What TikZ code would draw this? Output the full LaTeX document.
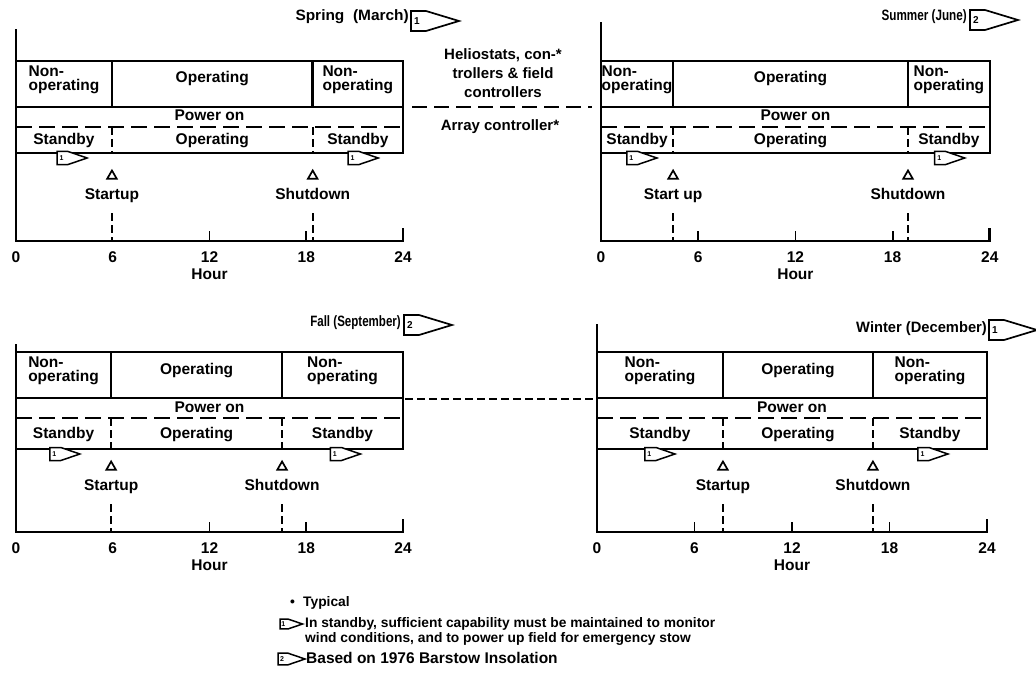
\documentclass[tikz,border=0pt]{standalone}
\usepackage{fontspec}
\usepackage{graphicx}
\setmainfont{Liberation Sans}
\usetikzlibrary{shapes.geometric}
\tikzset{
  ptxt/.style={font=\fontsize{15.5}{14.5}\selectfont\bfseries, inner sep=0pt, align=center},
  pone/.style={ptxt, text height=11pt, text depth=3pt},
  ttxt/.style={font=\fontsize{15}{15}\selectfont\bfseries, inner sep=0pt, anchor=east, text height=11pt, text depth=3pt},
  ltxt/.style={font=\fontsize{13.8}{14}\selectfont\bfseries, inner sep=0pt, anchor=west, text height=10pt, text depth=3pt},
  boxln/.style={line width=2.6pt, line cap=rect},
  axln/.style={line width=2.7pt, line cap=rect},
  tickln/.style={line width=1.8pt},
  pdash/.style={line width=2.6pt, dash pattern=on 16pt off 7pt},
  vdash/.style={line width=1.9pt, dash pattern=on 8pt off 4pt},
  mdash/.style={line width=2.3pt, dash pattern=on 15pt off 7pt},
  ldash/.style={line width=1.5pt, dash pattern=on 8pt off 4pt},
  tri/.style={draw, regular polygon, regular polygon sides=3, line width=1.7pt, minimum size=11pt, inner sep=0pt},
  smallflag/.pic={
    \draw[line width=1.5pt, fill=white, line join=miter] (0pt,6.5pt) -- (11pt,6.5pt) -- (30pt,0pt) -- (11pt,-6.5pt) -- (0pt,-6.5pt) -- cycle;
    \node[font=\fontsize{7}{7}\selectfont\bfseries, inner sep=0pt] (n) at (4.5pt,0pt) {#1};
  },
  bigflag/.pic={
    \draw[line width=1.7pt, fill=white, line join=miter] (0pt,10pt) -- (15pt,10pt) -- (48pt,0pt) -- (15pt,-10pt) -- (0pt,-10pt) -- cycle;
    \node[font=\fontsize{10}{10}\selectfont\bfseries, inner sep=0pt] (n) at (6pt,0pt) {#1};
  },
}
\newcommand\seasonpanel{%
\begin{scope}[xshift=\Px pt, yshift=-\Py pt, x=\Pk pt]
  \draw[boxln] (0,61) -- (24,61) -- (24,\Pbot) -- (0,\Pbot);
  \draw[boxln] (0,107) -- (24,107);
  \draw[boxln] (\Psu,61) -- (\Psu,107) (\Psd,61) -- (\Psd,107);
  \draw[pdash] (0,127) -- (24,127);
  \draw[vdash] (\Psu,127) -- (\Psu,\Pbot) (\Psd,127) -- (\Psd,\Pbot);
  \draw[axln] (0,\Pax) -- (0,241) -- (24,241) -- (24,229);
  \foreach \h in \Pticks \draw[tickln] (\h,241) -- (\h,231);
  \draw[vdash] (\Psu,213) -- (\Psu,241) (\Psd,213) -- (\Psd,241);
  \node[ptxt, align=left] (\Pn-nl) at ({\Psu/2},80) {Non-\\operating};
  \node[pone] (\Pn-op) at ({(\Psu+\Psd)/2},79) {Operating};
  \node[ptxt, align=left] (\Pn-nr) at ({(\Psd+24)/2},80) {Non-\\operating};
  \node[pone] (\Pn-pw) at (12,117) {Power on};
  \node[pone] (\Pn-sl) at ({\Psu/2},{(127+\Pbot)/2+1}) {Standby};
  \node[pone] (\Pn-so) at ({(\Psu+\Psd)/2},{(127+\Pbot)/2+1}) {Operating};
  \node[pone] (\Pn-sr) at ({(\Psd+24)/2},{(127+\Pbot)/2+1}) {Standby};
  \pic (\Pn-fl) at (\Pfl,\Pbot+5) {smallflag=1};
  \pic (\Pn-fr) at (\Pfr,\Pbot+5) {smallflag=1};
  \node[tri] (\Pn-ta) at (\Psu,176) {};
  \node[tri] (\Pn-tb) at (\Psd,176) {};
  \node[pone] (\Pn-su) at (\Psu,195) {\Plab};
  \node[pone] (\Pn-sd) at (\Psd,195) {Shutdown};
  \foreach \h in {0,6,12,18,24} \node[pone] (\Pn-h\h) at (\h,258) {\h};
  \node[pone] (\Pn-hr) at (12,275) {Hour};
\end{scope}}
\begin{document}
\begin{tikzpicture}[x=1pt, y=-1pt]
\fill[white] (0,0) rectangle (1036,698);
\useasboundingbox (0,0) rectangle (1036,698);

% Spring
\def\Pn{sp}\def\Px{16}\def\Pk{16.125}\def\Py{0}\def\Psu{5.95}\def\Psd{18.4}\def\Plab{Startup}\def\Pax{30}\def\Pfl{2.55}\def\Pfr{20.6}\def\Pbot{153}\def\Pticks{12,18}
\seasonpanel
% Summer
\def\Pn{su}\def\Px{601}\def\Pk{16.2}\def\Py{0}\def\Psu{4.45}\def\Psd{18.95}\def\Plab{Start up}\def\Pax{23}\def\Pfl{1.6}\def\Pfr{20.6}\def\Pbot{153}\def\Pticks{6,12,18}
\seasonpanel
% Fall
\def\Pn{fa}\def\Px{16}\def\Pk{16.125}\def\Py{291}\def\Psu{5.9}\def\Psd{16.5}\def\Plab{Startup}\def\Pax{54}\def\Pfl{2.1}\def\Pfr{19.5}\def\Pbot{158}\def\Pticks{12,18}
\seasonpanel
% Winter
\def\Pn{wi}\def\Px{597}\def\Pk{16.25}\def\Py{291}\def\Psu{7.75}\def\Psd{16.98}\def\Plab{Startup}\def\Pax{34}\def\Pfl{2.95}\def\Pfr{19.75}\def\Pbot{158}\def\Pticks{6,12,18}
\seasonpanel

% titles
\node[ttxt] (t-sp) at (409,17) {\scalebox{1.03}[1]{Spring\ \ (March)}};
\pic (f-sp) at (411,21) {bigflag=1};
\node[ttxt] (t-su) at (967,17) {\scalebox{0.78}[1]{Summer (June)}};
\pic (f-su) at (970,20) {bigflag=2};
\node[ttxt] (t-fa) at (401,322) {\scalebox{0.77}[1]{Fall (September)}};
\pic (f-fa) at (404,325) {bigflag=2};
\node[ttxt] (t-wi) at (987,328) {\scalebox{0.98}[1]{Winter (December)}};
\pic (f-wi) at (989,330) {bigflag=1};

% middle annotation
\node[ptxt, font=\fontsize{15}{19}\selectfont\bfseries] (mid) at (503,73) {Heliostats, con-*\\trollers \& field\\controllers};
\node[pone, font=\fontsize{15}{15}\selectfont\bfseries] (arr) at (500,127) {Array controller*};
\coordinate (topL) at (412,107);
\coordinate (topR) at (592,107);
\draw[mdash] (topL) -- (topR);
\coordinate (botL) at (405,399);
\coordinate (botR) at (596,399);
\draw[ldash] (botL) -- (botR);

% legend
\node[ltxt] (lg-b) at (290,603) {•};
\node[ltxt] (lg-t) at (303,603) {Typical};
\pic[scale=0.75] (lg-f1) at (280,624) {smallflag=1};
\node[ltxt] (lg-1) at (305,624) {In standby, sufficient capability must be maintained to monitor};
\node[ltxt] (lg-2) at (305,639) {wind conditions, and to power up field for emergency stow};
\pic[scale=0.9] (lg-f2) at (278,659) {smallflag=2};
\node[ltxt, font=\fontsize{15.5}{16}\selectfont\bfseries, text height=11pt] (lg-3) at (306,659) {Based on 1976 Barstow Insolation};
\end{tikzpicture}
\end{document}
